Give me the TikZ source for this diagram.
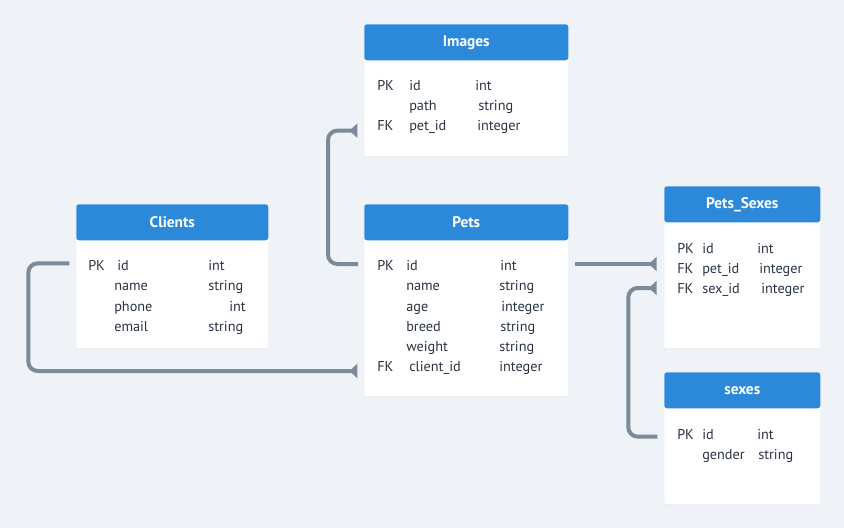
\documentclass[tikz,border=0pt]{standalone}
\usepackage{fontspec}
\setmainfont{PT Sans}
\usetikzlibrary{arrows.meta}
\usetikzlibrary{shadows}

\definecolor{bg}{HTML}{EFF3F7}
\definecolor{head}{HTML}{2C89DA}
\definecolor{ink}{HTML}{2A3542}
\definecolor{wire}{HTML}{7C8A99}

\tikzset{
  card/.style={fill=white, rounded corners=2pt, inner sep=0pt, anchor=north west,
    drop shadow={opacity=0.06, shadow xshift=0pt, shadow yshift=-1pt}},
  head/.style={fill=head, rounded corners=2pt, inner sep=0pt, anchor=north west,
    minimum height=27pt, text=white, font=\fontsize{11.5pt}{13pt}\selectfont\bfseries},
  field/.style={anchor=west, inner sep=0pt, text=ink, text height=7.5pt, text depth=0pt,
    font=\fontsize{10.7pt}{12pt}\selectfont},
  link/.style={draw=wire, line width=3pt, rounded corners=7pt,
    -{Triangle[reversed, width=10.5pt, length=6pt]}}
}

\begin{document}
\begin{tikzpicture}[x=0.75pt, y=-0.75pt]
\fill[bg] (0,0) rectangle (844,528);
\useasboundingbox (0,0) rectangle (844,528);

% Images
\node[card, minimum width=153pt, minimum height=99pt] (images) at (364,24) {};
\node[head, minimum width=153pt] (images-head) at (images.north west) {Images};
\node[field] (images-pk) at (377,86) {PK};
\node[field] (images-fk) at (377,126) {FK};
\foreach \f/\fx/\t/\tx/\y [count=\i] in {id/409/int/475/86, path/409/string/478/106, pet\_id/409/integer/477/126}{
    \node[field] (images-\i) at (\fx,\y) {\f};
    \node[field] (images-t\i) at (\tx,\y) {\t};}

% Clients
\node[card, minimum width=144pt, minimum height=108pt] (clients) at (76,204) {};
\node[head, minimum width=144pt] (clients-head) at (clients.north west) {Clients};
\node[field] (clients-pk) at (88,266) {PK};
\foreach \f/\fx/\t/\tx/\y [count=\i] in {id/117/int/208/266, name/114/string/208/286, phone/114/int/229/306, email/114/string/208/326}{
    \node[field] (clients-\i) at (\fx,\y) {\f};
    \node[field] (clients-t\i) at (\tx,\y) {\t};}

% Pets
\node[card, minimum width=153pt, minimum height=144pt] (pets) at (364,204) {};
\node[head, minimum width=153pt] (pets-head) at (pets.north west) {Pets};
\node[field] (pets-pk) at (377,266) {PK};
\node[field] (pets-fk) at (377,366) {FK};
\foreach \f/\fx/\t/\tx/\y [count=\i] in {id/406/int/500/266, name/406/string/499/286, age/406/integer/501/306, breed/406/string/500/326, weight/406/string/499/346, client\_id/409/integer/499/366}{
    \node[field] (pets-\i) at (\fx,\y) {\f};
    \node[field] (pets-t\i) at (\tx,\y) {\t};}

% Pets_Sexes
\node[card, minimum width=117pt, minimum height=121.5pt] (petsex) at (664,186) {};
\node[head, minimum width=117pt] (petsex-head) at (petsex.north west) {Pets\_Sexes};
\foreach \k/\f/\t/\tx/\y [count=\i] in {PK/id/int/757/248, FK/pet\_id/integer/759/268, FK/sex\_id/integer/761/288}{
    \node[field] (petsex-k\i) at (677,\y) {\k};
    \node[field] (petsex-\i) at (702,\y) {\f};
    \node[field] (petsex-t\i) at (\tx,\y) {\t};}

% sexes
\node[card, minimum width=117pt, minimum height=99pt] (sexes) at (664,372) {};
\node[head, minimum width=117pt] (sexes-head) at (sexes.north west) {sexes};
\node[field] (sexes-pk) at (677,434) {PK};
\foreach \f/\t/\tx/\y [count=\i] in {id/int/757/434, gender/string/758/454}{
    \node[field] (sexes-\i) at (702,\y) {\f};
    \node[field] (sexes-t\i) at (\tx,\y) {\t};}

% relations
\draw[link] ([xshift=-4.5pt, yshift=1.5pt]pets.west |- pets-1) -- ++(-30,0)
    |- ([xshift=-5pt, yshift=-3.5pt]images.west |- images-3);
\draw[link] ([xshift=-5pt, yshift=2pt]clients.west |- clients-1) -- ++(-41,0)
    |- ([xshift=-5pt, yshift=-3.75pt]pets.west |- pets-6);
\coordinate (pets-out) at ([xshift=5pt, yshift=1.5pt]pets.east |- pets-1);
\draw[link] (pets-out) -- ([xshift=-5.5pt]petsex.west |- pets-out);
\draw[link] ([xshift=-5pt, yshift=-2pt]sexes.west |- sexes-1) -- ++(-29,0)
    |- ([xshift=-5.5pt]petsex.west |- petsex-3);
\end{tikzpicture}
\end{document}
